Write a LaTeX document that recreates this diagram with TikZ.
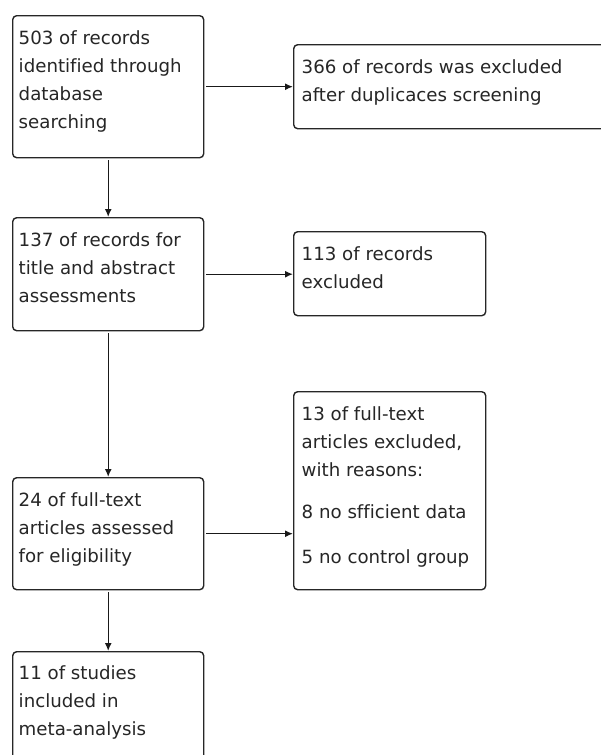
\documentclass[tikz,border=0pt]{standalone}
\usepackage{fontspec}
\setmainfont[Ligatures=NoCommon]{DejaVu Sans}
\usetikzlibrary{arrows.meta}
\newcommand{\mylines}[1]{\vtop{#1}}
\begin{document}
\begin{tikzpicture}[x=1pt,y=-1pt,
  box/.style={draw=black!85, line width=1.4pt, rounded corners=4pt, inner sep=0pt, anchor=north west},
  txt/.style={anchor=base west, inner sep=0pt, text=black!85,
    font=\fontsize{18.2pt}{28.3pt}\selectfont},
  conn/.style={draw=black!90, line width=1.4pt, -{Latex[length=8pt,width=7pt]}, shorten <=2pt}]
\useasboundingbox (0,0) rectangle (601,755);
\clip (0,0) rectangle (601,755);
\fill[white] (0,0) rectangle (601,755);
% boxes
\node[box, minimum width=191pt, minimum height=142pt] (b1) at (12,15) {};
\node[box, minimum width=320pt, minimum height=84pt] (b2) at (293,44) {};
\node[box, minimum width=191pt, minimum height=113pt] (b3) at (12,217) {};
\node[box, minimum width=192pt, minimum height=84pt] (b4) at (293,231) {};
\node[box, minimum width=191pt, minimum height=112pt] (b5) at (12,477) {};
\node[box, minimum width=192pt, minimum height=198pt] (b6) at (293,391) {};
\node[box, minimum width=191pt, minimum height=130pt] (b7) at (12,651) {};
% texts
\node[txt] (t1) at ([shift={(6.5,29)}]b1.north west) {\mylines{\hbox{503 of records}\hbox{identified through}\hbox{database}\hbox{searching}}};
\node[txt] (t2) at ([shift={(8.5,29)}]b2.north west) {\mylines{\hbox{366 of records was excluded}\hbox{after duplicaces screening}}};
\node[txt] (t3) at ([shift={(6.5,29)}]b3.north west) {\mylines{\hbox{137 of records for}\hbox{title and abstract}\hbox{assessments}}};
\node[txt] (t4) at ([shift={(8.5,29)}]b4.north west) {\mylines{\hbox{113 of records}\hbox{excluded}}};
\node[txt] (t5) at ([shift={(6.5,29)}]b5.north west) {\mylines{\hbox{24 of full-text}\hbox{articles assessed}\hbox{for eligibility}}};
\node[txt] (t6) at ([shift={(8.5,29)}]b6.north west) {\mylines{\hbox{13 of full-text}\hbox{articles excluded,}\hbox{with reasons:}}};
\node[txt] (t6b) at ([shift={(8.5,127.3)}]b6.north west) {8 no sfficient data};
\node[txt] (t6c) at ([shift={(8.5,172.3)}]b6.north west) {5 no control group};
\node[txt] (t7) at ([shift={(6.5,28)}]b7.north west) {\mylines{\hbox{11 of studies}\hbox{included in}\hbox{meta-analysis}}};
% connectors
\draw[conn] (b1.south) -- (b3.north);
\draw[conn] (b3.south) -- (b5.north);
\draw[conn] (b5.south) -- (b7.north);
\draw[conn] (b1.east) -- (b1.east -| b2.west);
\draw[conn] (b3.east) -- (b3.east -| b4.west);
\draw[conn] (b5.east) -- (b5.east -| b6.west);
\end{tikzpicture}
\end{document}
